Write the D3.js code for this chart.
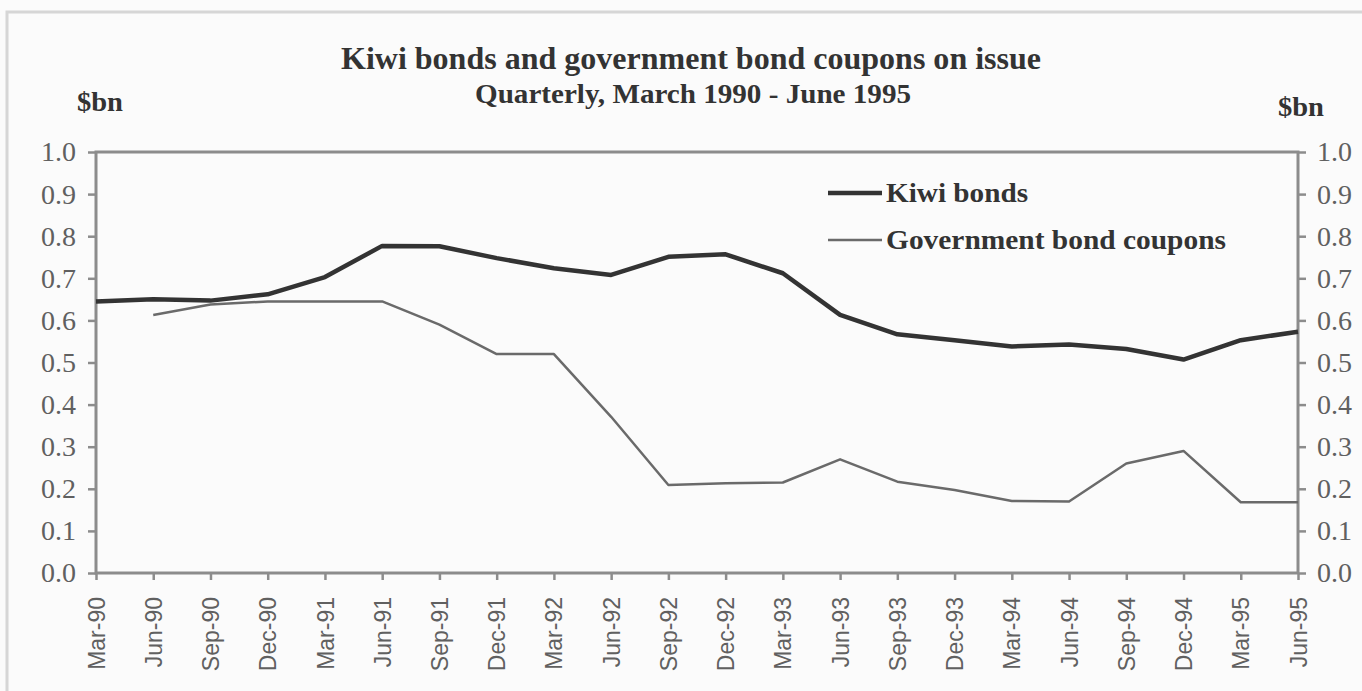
<!DOCTYPE html>
<html>
<head>
<meta charset="utf-8">
<script src="https://cdn.jsdelivr.net/npm/d3@7"></script>
<style>
  body { margin: 0; background: #fbfbfb; }
  svg { display: block; }
</style>
</head>
<body>
<script>
// quarterly observations, Mar-90 .. Jun-95
var quarters = ["Mar-90","Jun-90","Sep-90","Dec-90","Mar-91","Jun-91","Sep-91","Dec-91",
                "Mar-92","Jun-92","Sep-92","Dec-92","Mar-93","Jun-93","Sep-93","Dec-93",
                "Mar-94","Jun-94","Sep-94","Dec-94","Mar-95","Jun-95"];
var kiwiBonds = [0.645, 0.65, 0.647, 0.662, 0.703, 0.777, 0.776, 0.748, 0.724, 0.708, 0.751,
                 0.757, 0.712, 0.613, 0.567, 0.553, 0.538, 0.543, 0.532, 0.507, 0.553, 0.573];
var govCoupons = [null, 0.613, 0.638, 0.645, 0.645, 0.645, 0.59, 0.52, 0.52, 0.371, 0.209,
                  0.213, 0.215, 0.27, 0.217, 0.197, 0.171, 0.17, 0.26, 0.29, 0.168, 0.168];
var yTicks = [0, 0.1, 0.2, 0.3, 0.4, 0.5, 0.6, 0.7, 0.8, 0.9, 1.0];
var legendLabels = ["Kiwi bonds", "Government bond coupons"];

var width = 1362, height = 691;
var plot = {left: 96, right: 1298, top: 152, bottom: 573};
var serif = "'Liberation Serif', 'Times New Roman', serif";
var sans = "'Liberation Sans', Arial, sans-serif";
var axisGrey = "#8c8c8c", textGrey = "#606060";

var svg = d3.select("body").append("svg")
  .attr("width", width)
  .attr("height", height);

// faint outer frame of the scanned figure
svg.append("path")
  .attr("d", "M7," + height + "V12H" + width)
  .attr("fill", "none")
  .attr("stroke", "#d6d6d6")
  .attr("stroke-width", 3);

var x = d3.scalePoint().domain(quarters).range([plot.left, plot.right]);
var y = d3.scaleLinear().domain([0, 1]).range([plot.bottom, plot.top]);

// titles
svg.append("text")
  .attr("x", 691).attr("y", 69)
  .attr("text-anchor", "middle")
  .attr("textLength", 700).attr("lengthAdjust", "spacingAndGlyphs")
  .style("font", "bold 32px " + serif).style("fill", "#333")
  .text("Kiwi bonds and government bond coupons on issue");

svg.append("text")
  .attr("x", 693).attr("y", 103)
  .attr("text-anchor", "middle")
  .attr("textLength", 436).attr("lengthAdjust", "spacingAndGlyphs")
  .style("font", "bold 27px " + serif).style("fill", "#333")
  .text("Quarterly, March 1990 - June 1995");

svg.append("text")
  .attr("x", 77).attr("y", 111)
  .attr("textLength", 46).attr("lengthAdjust", "spacingAndGlyphs")
  .style("font", "bold 27px " + serif).style("fill", "#333")
  .text("$bn");

svg.append("text")
  .attr("x", 1278).attr("y", 116)
  .attr("textLength", 46).attr("lengthAdjust", "spacingAndGlyphs")
  .style("font", "bold 27px " + serif).style("fill", "#333")
  .text("$bn");

// axes
function styleAxis(g) {
  g.select(".domain").remove();
  g.selectAll(".tick line").attr("stroke", axisGrey).attr("stroke-width", 2.5);
  g.selectAll(".tick text").style("fill", textGrey);
}

svg.append("g")
  .attr("transform", "translate(" + plot.left + ",0)")
  .call(d3.axisLeft(y).tickValues(yTicks).tickFormat(d3.format(".1f")).tickSize(8).tickPadding(12))
  .call(styleAxis)
  .selectAll("text").style("font", "28px " + serif);

svg.append("g")
  .attr("transform", "translate(" + plot.right + ",0)")
  .call(d3.axisRight(y).tickValues(yTicks).tickFormat(d3.format(".1f")).tickSize(8).tickPadding(11))
  .call(styleAxis)
  .selectAll("text").style("font", "28px " + serif);

svg.append("g")
  .attr("transform", "translate(0," + plot.bottom + ")")
  .call(d3.axisBottom(x).tickSize(7))
  .call(styleAxis)
  .selectAll("text")
    .style("font", "23px " + sans)
    .attr("transform", "rotate(-90)")
    .attr("x", -24).attr("y", 0).attr("dy", "0.35em")
    .style("text-anchor", "end");

// plot frame
svg.append("rect")
  .attr("x", x(quarters[0])).attr("y", y(1))
  .attr("width", x(quarters[quarters.length - 1]) - x(quarters[0]))
  .attr("height", y(0) - y(1))
  .attr("fill", "none")
  .attr("stroke", axisGrey)
  .attr("stroke-width", 3);

// series
var line = d3.line()
  .defined(function(d) { return d != null; })
  .x(function(d, i) { return x(quarters[i]); })
  .y(function(d) { return y(d); });

svg.append("path")
  .datum(govCoupons)
  .attr("d", line)
  .attr("fill", "none")
  .attr("stroke", "#6a6a6a")
  .attr("stroke-width", 2.5)
  .attr("stroke-linejoin", "round");

svg.append("path")
  .datum(kiwiBonds)
  .attr("d", line)
  .attr("fill", "none")
  .attr("stroke", "#333")
  .attr("stroke-width", 4.5)
  .attr("stroke-linejoin", "round");

// legend
var legendStyles = [{stroke: "#333", w: 4.5, y: 193}, {stroke: "#6a6a6a", w: 2.5, y: 240}];
var legend = svg.append("g").selectAll("g")
  .data(legendLabels)
  .enter().append("g");

legend.append("line")
  .attr("x1", 828).attr("x2", 882)
  .attr("y1", function(d, i) { return legendStyles[i].y; })
  .attr("y2", function(d, i) { return legendStyles[i].y; })
  .attr("stroke", function(d, i) { return legendStyles[i].stroke; })
  .attr("stroke-width", function(d, i) { return legendStyles[i].w; });

legend.append("text")
  .attr("x", 886)
  .attr("y", function(d, i) { return legendStyles[i].y + 9; })
  .attr("textLength", function(d, i) { return i === 0 ? 142 : 340; })
  .attr("lengthAdjust", "spacingAndGlyphs")
  .style("font", "bold 28px " + serif).style("fill", "#333")
  .text(function(d) { return d; });
</script>
</body>
</html>
